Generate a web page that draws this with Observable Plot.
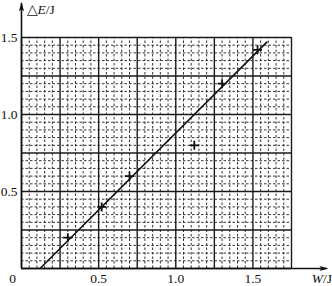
<!DOCTYPE html>
<html>
<head>
<meta charset="utf-8">
<script src="https://cdn.jsdelivr.net/npm/d3@7"></script>
<script src="https://cdn.jsdelivr.net/npm/@observablehq/plot@0.6"></script>
<style>
  html, body { margin: 0; padding: 0; background: #fff; }
  #chart svg { display: block; }
</style>
</head>
<body>
<div id="chart"></div>
<script>
// ---- data ----
const pointsW = [0.30, 0.52, 0.70, 1.12, 1.30, 1.53];
const pointsE = [0.20, 0.40, 0.60, 0.80, 1.20, 1.42];
const fitW = [0.12, 1.59];
const fitE = [0.00, 1.47];
const xTickLabels = [0.5, 1.0, 1.5];
const yTickLabels = [0.5, 1.0, 1.5];
const xDomain = [0, 1.75];
const yDomain = [0, 1.5];
const axisEndW = 1.98;   // arrow tip of W axis
const axisEndE = 1.72;   // arrow tip of ΔE axis
const xLabel = "△E/J";
const wLabel = "W/J";

const points = pointsW.map((w, i) => ({W: w, E: pointsE[i]}));
const fit = fitW.map((w, i) => ({W: w, E: fitE[i]}));

const eps = 1e-9;
const majorX = d3.range(0, xDomain[1] + eps, 0.25);
const majorY = d3.range(0, yDomain[1] + eps, 0.25);
const isMajor = v => Math.abs(v / 0.25 - Math.round(v / 0.25)) < 1e-6;
const minorX = d3.range(0, xDomain[1] + eps, 0.05).filter(v => !isMajor(v));
const minorY = d3.range(0, yDomain[1] + eps, 0.05).filter(v => !isMajor(v));

// narrow arrowhead symbol pointing up
const arrowSym = {
  draw(ctx, size) {
    const h = Math.sqrt(size) * 1.6, w = Math.sqrt(size) * 0.45;
    ctx.moveTo(0, -h / 2);
    ctx.lineTo(w, h / 2);
    ctx.lineTo(0, h / 2 - 2);
    ctx.lineTo(-w, h / 2);
    ctx.closePath();
  }
};

const font = "'Liberation Serif', 'Times New Roman', serif";

const chart = Plot.plot({
  width: 332,
  height: 286,
  marginLeft: 21,
  marginRight: 41,
  marginTop: 37,
  marginBottom: 18,
  style: {fontFamily: font, fontSize: "13.5px", background: "#fff", color: "#000"},
  x: {domain: xDomain, axis: null},
  y: {domain: yDomain, axis: null},
  marks: [
    Plot.ruleX(minorX, {y1: 0, y2: yDomain[1], stroke: "#333", strokeWidth: 1, strokeDasharray: "2.5,2"}),
    Plot.ruleY(minorY, {x1: 0, x2: xDomain[1], stroke: "#333", strokeWidth: 1, strokeDasharray: "2.5,2"}),
    Plot.ruleX(majorX, {y1: 0, y2: yDomain[1], stroke: "#1a1a1a", strokeWidth: 1.4}),
    Plot.ruleY(majorY, {x1: 0, x2: xDomain[1], stroke: "#1a1a1a", strokeWidth: 1.4}),
    // axes
    Plot.ruleY([0], {x1: 0, x2: axisEndW, stroke: "#111", strokeWidth: 1.6}),
    Plot.ruleX([0], {y1: 0, y2: axisEndE, stroke: "#111", strokeWidth: 1.6}),
    Plot.dot([{W: axisEndW, E: 0}], {x: "W", y: "E", symbol: arrowSym, r: 3.2, fill: "#111", stroke: "none", rotate: 90, dx: -3}),
    Plot.dot([{W: 0, E: axisEndE}], {x: "W", y: "E", symbol: arrowSym, r: 3.2, fill: "#111", stroke: "none", dy: 3}),
    // fit line
    Plot.line(fit, {x: "W", y: "E", stroke: "#111", strokeWidth: 1.6}),
    // data crosses
    Plot.dot(points, {x: "W", y: "E", symbol: "plus", r: 3, stroke: "#111", strokeWidth: 1.8}),
    // tick labels
    Plot.text(yTickLabels, {x: 0, y: d => d, text: d => d.toFixed(1), textAnchor: "end", dx: -4, fill: "#111"}),
    Plot.text(xTickLabels, {x: d => d, y: 0, text: d => d.toFixed(1), dy: 10, fill: "#111"}),
    Plot.text([0], {x: 0, y: 0, text: d => String(d), dx: -9, dy: 10, fill: "#111"}),
    // axis labels
    Plot.text([xLabel], {x: 0, y: axisEndE, text: d => d, textAnchor: "start", dx: 5, dy: 6, fill: "#111", className: "lblE"}),
    Plot.text([wLabel], {x: axisEndW, y: 0, text: d => d, textAnchor: "end", dx: 5, dy: 10, fill: "#111", className: "lblW"})
  ]
});

// italicize the variable letters
function styleLabel(cls, italicPart, rest) {
  d3.select(chart).selectAll("g." + cls + " text").each(function () {
    const t = d3.select(this);
    t.text(null);
    if (italicPart.pre) t.append("tspan").text(italicPart.pre);
    t.append("tspan").attr("font-style", "italic").text(italicPart.it);
    t.append("tspan").text(rest);
  });
}
styleLabel("lblE", {pre: "△", it: "E"}, "/J");
styleLabel("lblW", {pre: "", it: "W"}, "/J");

document.getElementById("chart").appendChild(chart);
</script>
</body>
</html>
